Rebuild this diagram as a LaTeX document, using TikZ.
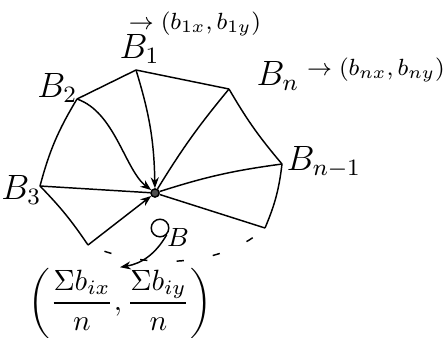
\documentclass[tikz,border=0pt]{standalone}
\usepackage{amsmath}
\usetikzlibrary{arrows.meta,positioning}
\begin{document}
\begin{tikzpicture}[x=0.012cm,y=-0.012cm,
side/.style={line width=0.5pt},
arr/.style={-{Stealth[length=1.3mm]},line width=0.5pt},
lbl/.style={font=\large,inner sep=0pt},
note/.style={font=\footnotesize,inner sep=0pt}
]
\useasboundingbox (0,0) rectangle (444,337);
% vertices of the polygon
\coordinate (B1) at (136,70);
\coordinate (Bn) at (229,89);
\coordinate (B2) at (77,99);
\coordinate (Bm) at (282,164);
\coordinate (B3) at (40,186);
\coordinate (BL) at (88,245);
\coordinate (BR) at (265,228);
\node[circle,draw,fill=black!70,line width=0.5pt,inner sep=0pt,minimum size=2.8pt] (O) at (155,193) {};
% labels
\node[lbl,anchor=south west] (lB1) at (119,64) {$B_1$};
\node[lbl,anchor=west] (lBn) at (256,76) {$B_n$};
\node[lbl,anchor=east] (lB2) at (78,88) {$B_2$};
\node[lbl,anchor=west] (lBm) at (286,162) {$B_{n-1}$};
\node[lbl,anchor=east] (lB3) at (42,190) {$B_3$};
\node[note] (c1) at (195,24) {$\to(b_{1x},b_{1y})$};
\node[note] (cn) at (376,70) {$\to(b_{nx},b_{ny})$};
\node[circle,draw,line width=0.5pt,inner sep=0pt,minimum size=6pt] (OB) at (160,228) {};
\node[lbl,font=\small] (lOB) at (178,237) {$B$};
\node[inner sep=0pt] (frm) at (120,303) {$\left(\dfrac{\Sigma b_{ix}}{n},\dfrac{\Sigma b_{iy}}{n}\right)$};
% outer sides
\draw[side] (B1) -- (Bn);
\draw[side] (B2) -- (B1);
\draw[side] (Bn) to[bend right=5] (Bm);
\draw[side] (Bm) to[bend left=8] (BR);
\draw[side] (B3) to[bend left=8] (B2);
\draw[side] (B3) to[bend left=5] (BL);
\draw[side,dash pattern=on 2.5pt off 10pt,dash phase=-6pt] (BL) .. controls (150,272) and (225,265) .. (BR);
% spokes to the centre
\draw[arr] (B1) to[bend left=8] (O);
\draw[arr] (B2) .. controls (115,112) and (125,170) .. (O);
\draw[side] (Bn) to[bend right=4] (O);
\draw[side] (Bm) to[bend right=5] (O);
\draw[side] (BR) -- (O);
\draw[side] (B3) -- (O);
\draw[arr] (BL) -- (O);
\draw[arr] (OB.south east) to[bend left=25] (frm.north);
\end{tikzpicture}
\end{document}
